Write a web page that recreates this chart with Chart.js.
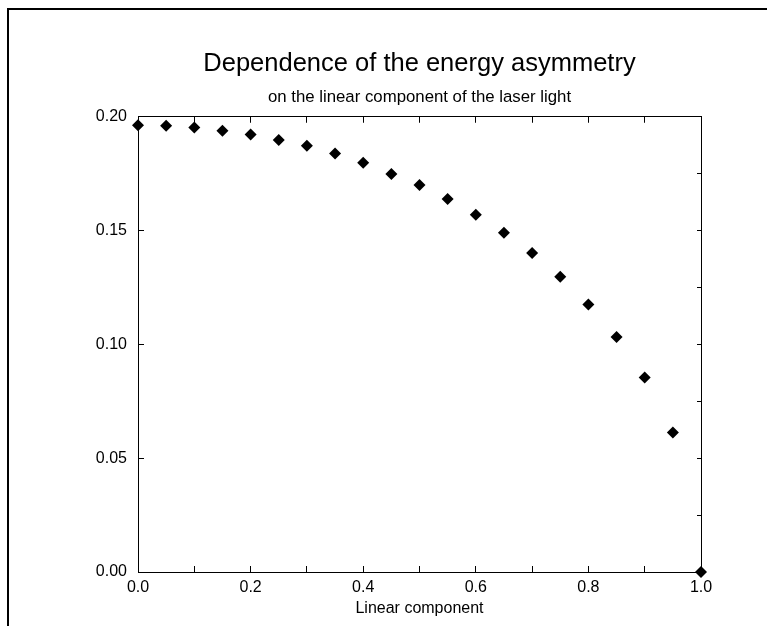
<!DOCTYPE html>
<html>
<head>
<meta charset="utf-8">
<title>Energy asymmetry</title>
<script src="https://cdn.jsdelivr.net/npm/chart.js@4/dist/chart.umd.min.js"></script>
<style>
    html, body { margin: 0; padding: 0; background: #fff; overflow: hidden; }
    #wrap { position: relative; width: 767px; height: 626px; }
    #frame {
        position: absolute; left: 7px; top: 8px; right: -10px; bottom: -10px;
        border-left: 2px solid #000; border-top: 2px solid #000;
    }
    canvas { position: absolute; left: 0; top: 0; }
</style>
</head>
<body>
<div id="wrap">
    <div id="frame"></div>
    <canvas id="asymChart" width="767" height="626"></canvas>
</div>
<script>
// Linear component of the laser light (x) and the energy asymmetry (y)
const linearComponent = [0.00, 0.05, 0.10, 0.15, 0.20, 0.25, 0.30, 0.35, 0.40, 0.45, 0.50,
                         0.55, 0.60, 0.65, 0.70, 0.75, 0.80, 0.85, 0.90, 0.95, 1.00];
const asymmetry = [0.1963, 0.1961, 0.1953, 0.1939, 0.1922, 0.1898, 0.1873, 0.1839, 0.1798, 0.1749, 0.1700,
                   0.1639, 0.1569, 0.1490, 0.1401, 0.1297, 0.1175, 0.1032, 0.0854, 0.0613, 0.0000];

const titleText = 'Dependence of the energy asymmetry';
const subtitleText = 'on the linear component of the laser light';
const xTitle = 'Linear component';

const FONT = 'Liberation Sans, Arial, Helvetica, sans-serif';

function createChart() {
    const points = linearComponent.map((x, i) => ({x: x, y: asymmetry[i]}));

    const ctx = document.getElementById('asymChart').getContext('2d');
    new Chart(ctx, {
        type: 'scatter',
        data: {
            datasets: [{
                data: points,
                pointStyle: 'rectRot',
                pointRadius: 6,
                pointHoverRadius: 6,
                borderWidth: 0,
                backgroundColor: '#000',
                clip: false
            }]
        },
        options: {
            responsive: false,
            animation: false,
            layout: {padding: {left: 0, right: 0, top: 0, bottom: 0}},
            plugins: {
                legend: {display: false},
                tooltip: {enabled: false},
                title: {
                    display: true,
                    text: titleText,
                    fullSize: false,
                    color: '#000',
                    font: {family: FONT, size: 25.5, weight: 'normal'},
                    padding: {top: 49, bottom: 0}
                },
                subtitle: {
                    display: true,
                    text: subtitleText,
                    fullSize: false,
                    color: '#000',
                    font: {family: FONT, size: 16.8, weight: 'normal'},
                    padding: {top: 8, bottom: 9}
                }
            },
            scales: {
                x: {
                    type: 'linear',
                    position: 'bottom',
                    min: 0, max: 1,
                    afterFit: s => { s.height = 54; },
                    border: {color: '#000', width: 1},
                    grid: {drawOnChartArea: false, tickLength: -6, tickColor: '#000'},
                    ticks: {
                        stepSize: 0.1,
                        padding: 12,
                        color: '#000',
                        maxRotation: 0,
                        autoSkip: false,
                        font: {family: FONT, size: 16},
                        callback: (v, i) => i % 2 === 0 ? v.toFixed(1) : ''
                    },
                    title: {
                        display: true,
                        text: xTitle,
                        color: '#000',
                        font: {family: FONT, size: 16},
                        padding: {top: 0, bottom: 8}
                    }
                },
                xTop: {
                    type: 'linear',
                    position: 'top',
                    min: 0, max: 1,
                    afterFit: s => { s.height = 0; },
                    border: {color: '#000', width: 1},
                    grid: {drawOnChartArea: false, tickLength: -6, tickColor: '#000'},
                    ticks: {stepSize: 0.1, display: false}
                },
                y: {
                    type: 'linear',
                    position: 'left',
                    min: 0, max: 0.2,
                    afterFit: s => { s.width = 138; },
                    border: {color: '#000', width: 1},
                    grid: {drawOnChartArea: false, tickLength: -6, tickColor: '#000'},
                    ticks: {
                        stepSize: 0.05,
                        padding: 17,
                        color: '#000',
                        font: {family: FONT, size: 16},
                        callback: v => v.toFixed(2)
                    }
                },
                yRight: {
                    type: 'linear',
                    position: 'right',
                    min: 0, max: 0.2,
                    afterFit: s => { s.width = 66; },
                    border: {color: '#000', width: 1},
                    grid: {drawOnChartArea: false, tickLength: -4, tickColor: '#000'},
                    ticks: {stepSize: 0.025, display: false}
                }
            }
        }
    });
}

createChart();
</script>
</body>
</html>
